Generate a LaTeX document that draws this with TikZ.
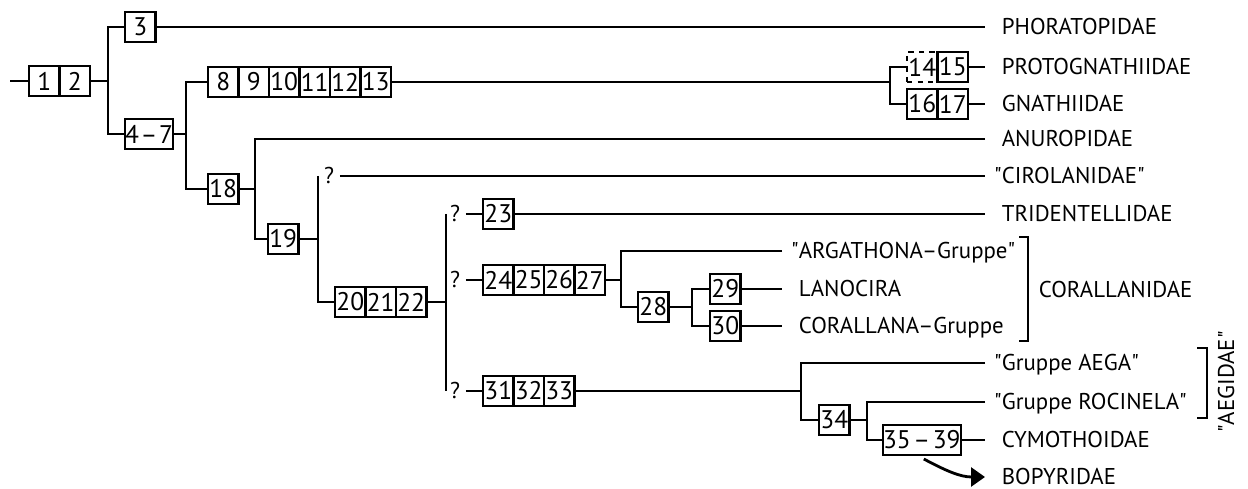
\documentclass[tikz,border=0pt]{standalone}
\usepackage{fontspec}
\setmainfont{PT Sans}
\usetikzlibrary{arrows.meta, positioning}
\newcommand{\qq}{\textquotedbl}

\begin{document}
\begin{tikzpicture}[x=0.02cm, y=-0.02cm, line width=1pt,
    cell/.style={rectangle, draw, line width=1.2pt, minimum width=0.61cm,
      minimum height=0.6cm, inner sep=0pt, outer sep=0pt, anchor=west,
      font=\fontsize{14.5}{15}\selectfont},
    wide/.style={cell, minimum width=#1},
    leaf/.style={anchor=west, inner xsep=0.32cm, inner ysep=0pt,
      text height=0.32cm, text depth=0pt, font=\fontsize{13}{15}\selectfont},
    qm/.style={inner xsep=0.1cm, inner ysep=0pt, text height=0.32cm,
      text depth=0pt, font=\fontsize{13}{15}\selectfont},
    bop/.style={line width=1.6pt, -{Triangle[length=0.28cm, width=0.38cm]}}
]
\useasboundingbox (0,0) rectangle (1248,489);

%% Merkmalsboxen
\node[cell] (c1) at (29,81) {1};
\node[cell, right=0pt of c1] (c2) {2};
\node[cell] (c3) at (125,27) {3};
\node[wide=0.92cm] (c47) at (125,134) {4\kern1pt--\kern1pt7};
\node[cell] (c8) at (208,82) {8};
\node[cell, right=0pt of c8] (c9) {9};
\node[cell, right=0pt of c9] (c10) {10};
\node[cell, right=0pt of c10] (c11) {11};
\node[cell, right=0pt of c11] (c12) {12};
\node[cell, right=0pt of c12] (c13) {13};
\node[cell, dashed, line width=1pt] (c14) at (907,67) {14};
\node[cell, right=0pt of c14] (c15) {15};
\node[cell] (c16) at (907,104) {16};
\node[cell, right=0pt of c16] (c17) {17};
\node[cell] (c18) at (208,189) {18};
\node[cell] (c19) at (268,239) {19};
\node[cell] (c20) at (335,302) {20};
\node[cell, right=0pt of c20] (c21) {21};
\node[cell, right=0pt of c21] (c22) {22};
\node[cell] (c23) at (483,214) {23};
\node[cell] (c24) at (483,280) {24};
\node[cell, right=0pt of c24] (c25) {25};
\node[cell, right=0pt of c25] (c26) {26};
\node[cell, right=0pt of c26] (c27) {27};
\node[cell] (c28) at (638,307) {28};
\node[cell] (c29) at (710,289) {29};
\node[cell] (c30) at (710,326) {30};
\node[cell] (c31) at (483,391) {31};
\node[cell, right=0pt of c31] (c32) {32};
\node[cell, right=0pt of c32] (c33) {33};
\node[cell] (c34) at (819,420) {34};
\node[wide=1.3cm] (c3539) at (883,440) {35\kern1.5pt--\kern1.5pt39};

%% Fragezeichen
\node[qm] (q1) at (329,176) {?};
\node[qm] (q2) at (455,214) {?};
\node[qm] (q3) at (455,280) {?};
\node[qm] (q4) at (455,391) {?};

%% Taxa
\node[leaf] (lPho) at (985,27) {PHORATOPIDAE};
\node[leaf] (lPro) at (985,67) {PROTOGNATHIIDAE};
\node[leaf] (lGna) at (985,104) {GNATHIIDAE};
\node[leaf] (lAnu) at (985,139) {ANUROPIDAE};
\node[leaf] (lCir) at (985,176) {\llap{\qq}CIROLANIDAE\qq};
\node[leaf] (lTri) at (985,214) {TRIDENTELLIDAE};
\node[leaf] (lArg) at (782,251) {\llap{\qq}ARGATHONA--Gruppe\qq};
\node[leaf] (lLan) at (782,289) {LANOCIRA};
\node[leaf] (lCor) at (782,326) {CORALLANA--Gruppe};
\node[leaf] (lAeg) at (985,363) {\llap{\qq}Gruppe AEGA\qq};
\node[leaf] (lRoc) at (985,402) {\llap{\qq}Gruppe ROCINELA\qq};
\node[leaf] (lCym) at (985,440) {CYMOTHOIDAE};
\node[leaf] (lBop) at (985,477) {BOPYRIDAE};
\node[leaf, inner xsep=0pt] (fCor) at (1038,290) {CORALLANIDAE};
\node[leaf, anchor=center, inner xsep=0pt, rotate=90] (fAeg) at (1226,382) {\qq AEGIDAE\qq};

%% Verzweigungspunkte
\coordinate (root) at (10,81);
\coordinate (j1) at (108,81);
\coordinate (j2) at (186,134);
\coordinate (j3) at (890,82);
\coordinate (j4) at (255,189);
\coordinate (j5) at (318,239);
\coordinate (j6) at (446,302);
\coordinate (j7) at (621,280);
\coordinate (j8) at (692,307);
\coordinate (j9) at (801,391);
\coordinate (j10) at (867,420);

%% Kanten
\draw (root) -- (c1.west);
\draw (c2.east) -- (j1);
\draw (c3.west) -| (j1) |- (c47.west);
\draw (c3.east) -- (lPho.west);
\draw (c47.east) -- (j2);
\draw (c8.west) -| (j2) |- (c18.west);
\draw (c13.east) -- (j3);
\draw (c14.west) -| (j3) |- (c16.west);
\draw (c15.east) -- (lPro.west);
\draw (c17.east) -- (lGna.west);
\draw (c18.east) -- (j4);
\draw (lAnu.west) -| (j4) |- (c19.west);
\draw (c19.east) -- (j5);
\draw (q1.west -| j5) |- (c20.west);
\draw (q1.east) -- (lCir.west);
\draw (c22.east) -- (j6);
\draw (q2.west -| j6) -- (q4.west -| j6);
\draw (q2.east) -- (c23.west);
\draw (q3.east) -- (c24.west);
\draw (q4.east) -- (c31.west);
\draw (c23.east) -- (lTri.west);
\draw (c27.east) -- (j7);
\draw (lArg.west) -| (j7) |- (c28.west);
\draw (c28.east) -- (j8);
\draw (c29.west) -| (j8) |- (c30.west);
\draw (c29.east) -- (lLan.west);
\draw (c30.east) -- (lCor.west);
\draw (c33.east) -- (j9);
\draw (lAeg.west) -| (j9) |- (c34.west);
\draw (c34.east) -- (j10);
\draw (lRoc.west) -| (j10) |- (c3539.west);
\draw (c3539.east) -- (lCym.west);
\draw[bop] ([xshift=0.04cm, yshift=-0.08cm]c3539.south) to[out=-28, in=180] (lBop.west);

%% Klammern
\draw (1019,237) -- (1028,237) -- (1028,341) -- (1019,341);
\draw (1197,348) -- (1207,348) -- (1207,418) -- (1197,418);
\end{tikzpicture}
\end{document}
